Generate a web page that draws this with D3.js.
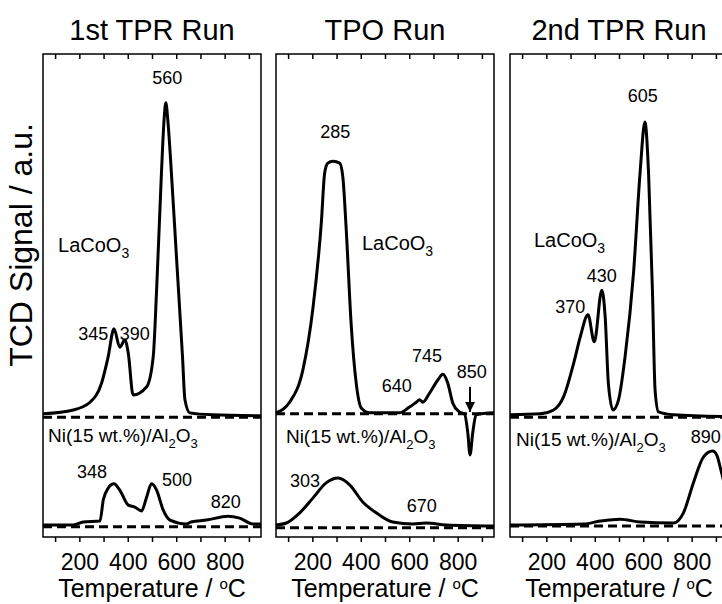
<!DOCTYPE html>
<meta charset="utf-8">
<script src="https://cdn.jsdelivr.net/npm/d3@7"></script>
<style>
body { margin: 0; background: #fff; }
svg text { font-family: "Liberation Sans", Arial, sans-serif; fill: #000; }
.frame { fill: none; stroke: #000; stroke-width: 1.5; }
.axis path, .axis line { stroke: #000; stroke-width: 1.5; }
.axis text { font-size: 23px; font-family: "Liberation Sans", Arial, sans-serif; }
.curve { fill: none; stroke: #000; stroke-width: 3; stroke-linejoin: round; }
.base { stroke: #000; stroke-width: 3; stroke-dasharray: 9,5; }
</style>
<body>
<script>

// temperature (°C), signal (a.u.)
var tpr1_lacoo3 = [[50,25.5],[175,26.3],[244,27.9],[292,31.9],[319,37.3],[343,43.1],[367,39.3],[388,40.8],[402,38.1],[422,29.4],[478,31.1],[505,37.3],[519,51.1],[539,75.4],[550,86.5],[557,89.9],[565,86.5],[576,78.7],[601,58.0],[626,37.3],[636,28.4],[656,25.7],[750,25.3],[950,25.1]]
var tpr1_ni = [[50,2.5],[175,2.5],[216,3.1],[285,3.3],[299,7.7],[319,10.1],[343,11.0],[367,9.7],[402,6.6],[429,6.2],[457,5.4],[478,8.3],[498,11.0],[519,9.7],[546,5.6],[574,3.5],[642,2.7],[661,3.1],[725,3.5],[814,4.3],[862,3.9],[917,2.7],[950,2.7]]

var tpo_lacoo3 = [[50,25.7],[106,27.9],[161,34.6],[203,47.6],[237,65.0],[251,75.4],[264,77.4],[285,77.8],[313,77.4],[326,74.5],[340,63.6],[360,44.3],[381,31.9],[402,26.7],[436,25.7],[560,25.7],[601,26.9],[629,27.9],[643,28.4],[656,27.9],[684,29.8],[718,32.5],[739,33.7],[759,31.9],[780,27.7],[807,25.9],[828,25.5],[842,21.5],[851,17.0],[862,21.5],[876,25.3],[950,25.7]]
var tpo_ni = [[50,2.5],[93,2.9],[148,5.0],[203,8.1],[257,11.2],[306,12.2],[354,10.8],[409,7.2],[464,5.0],[532,3.1],[615,2.7],[670,2.9],[752,2.5],[950,2.3]]

var tpr2_lacoo3 = [[50,25.3],[175,25.5],[230,26.3],[271,29.0],[313,36.0],[340,41.4],[372,46.0],[398,40.4],[429,51.1],[443,45.5],[456,31.9],[475,26.3],[498,28.4],[525,37.3],[560,54.7],[587,75.4],[607,85.9],[622,75.4],[638,51.1],[649,30.4],[663,25.9],[725,25.3],[950,24.9]]
var tpr2_ni = [[50,2.5],[354,2.7],[422,3.3],[505,3.7],[587,3.1],[725,2.9],[766,5.0],[807,11.2],[849,16.6],[887,17.8],[905,16.8],[920,14.0],[950,8.0]]

var titles = ["1st TPR Run", "TPO Run", "2nd TPR Run"]
var baselines = [[24.8, 2.1], [25.5, 1.9], [24.8, 2.3]]
var majorTicks = [200, 400, 600, 800]
var minorTicks = [100, 300, 500, 700, 900]

// peak labels: [temperature, signal, text]
var peaks = [
  [[563,93.8,"560"],[258,40.8,"345"],[429,40.8,"390"],[252,12.2,"348"],[603,10.6,"500"],[805,6.0,"820"]],
  [[295,82.6,"285"],[549,30.0,"640"],[673,36.2,"745"],[858,32.9,"850"],[170,10.4,"303"],[652,5.2,"670"]],
  [[598,90.1,"605"],[429,52.8,"430"],[299,46.4,"370"],[858,19.5,"890"]]
]
// sample labels: [temperature, signal]
var lacoLabels = [[112,59.0],[405,59.4],[149,60.0]]
var niLabels = [[71,19.7],[91,19.5],[75,18.8]]
var arrow850 = [851, 31.1, 25.9]

var series = [[tpr1_lacoo3, tpr1_ni], [tpo_lacoo3, tpo_ni], [tpr2_lacoo3, tpr2_ni]]

var width = 722, height = 604
var panelLeft = [43, 276, 510], panelW = 218, plotTop = 54, plotBottom = 537

var svg = d3.select("body").append("svg")
    .attr("width", width)
    .attr("height", height)

svg.append("defs").append("marker")
   .attr("id", "head")
   .attr("viewBox", "0 -5 10 10")
   .attr("refX", 10).attr("refY", 0)
   .attr("markerWidth", 10).attr("markerHeight", 10)
   .attr("markerUnits", "userSpaceOnUse")
   .attr("orient", "auto")
   .append("path").attr("d", "M0,-5L10,0L0,5Z").attr("fill", "#000")

var y = d3.scaleLinear().domain([0, 100]).range([plotBottom, plotTop])

for (var p = 0; p < 3; ++p) {
  var x = d3.scaleLinear().domain([50, 950]).range([panelLeft[p], panelLeft[p] + panelW])
  var g = svg.append("g")

  g.append("rect").attr("class", "frame")
   .attr("x", x(50)).attr("y", plotTop)
   .attr("width", x(950) - x(50)).attr("height", plotBottom - plotTop)

  g.append("g").attr("class", "axis")
   .attr("transform", "translate(0," + plotBottom + ")")
   .call(d3.axisBottom(x).tickValues(majorTicks).tickSize(5).tickPadding(12).tickSizeOuter(0))
   .call(a => a.select(".domain").remove())
  g.append("g").attr("class", "axis")
   .attr("transform", "translate(0," + plotBottom + ")")
   .call(d3.axisBottom(x).tickValues(minorTicks).tickSize(5).tickFormat("").tickSizeOuter(0))
   .call(a => a.select(".domain").remove())
  g.append("g").attr("class", "axis")
   .attr("transform", "translate(0," + plotTop + ")")
   .call(d3.axisBottom(x).tickValues(majorTicks.concat(minorTicks)).tickSize(5).tickFormat("").tickSizeOuter(0))
   .call(a => a.select(".domain").remove())

  baselines[p].forEach(function(b) {
    g.append("line").attr("class", "base")
     .attr("x1", x(50)).attr("x2", x(950))
     .attr("y1", y(b)).attr("y2", y(b))
  })

  var line = d3.line().x(d => x(d[0])).y(d => y(d[1])).curve(d3.curveMonotoneX)
  series[p].forEach(function(s) {
    g.append("path").attr("class", "curve").attr("d", line(s))
  })

  g.append("text")
   .attr("x", x(500)).attr("y", 40)
   .attr("text-anchor", "middle")
   .style("font-size", "29px")
   .text(titles[p])

  var xt = g.append("text")
   .attr("x", x(500)).attr("y", 597)
   .attr("text-anchor", "middle")
   .style("font-size", "25px")
  xt.append("tspan").text("Temperature / ")
  xt.append("tspan").attr("dy", -8).style("font-size", "15px").text("o")
  xt.append("tspan").attr("dy", 8).text("C")

  peaks[p].forEach(function(d) {
    g.append("text")
     .attr("x", x(d[0])).attr("y", y(d[1]))
     .attr("text-anchor", "middle")
     .style("font-size", "18px")
     .text(d[2])
  })

  var lt = g.append("text")
   .attr("x", x(lacoLabels[p][0])).attr("y", y(lacoLabels[p][1]))
   .style("font-size", "20px")
  lt.append("tspan").text("LaCoO")
  lt.append("tspan").attr("dy", 6).style("font-size", "14px").text("3")

  var nt = g.append("text")
   .attr("x", x(niLabels[p][0])).attr("y", y(niLabels[p][1]))
   .style("font-size", "19px")
  nt.append("tspan").text("Ni(15 wt.%)/Al")
  nt.append("tspan").attr("dy", 6).style("font-size", "13px").text("2")
  nt.append("tspan").attr("dy", -6).text("O")
  nt.append("tspan").attr("dy", 6).style("font-size", "13px").text("3")

  if (p == 1) {
    g.append("line")
     .attr("x1", x(arrow850[0])).attr("x2", x(arrow850[0]))
     .attr("y1", y(arrow850[1])).attr("y2", y(arrow850[2]))
     .attr("stroke", "#000").attr("stroke-width", 2)
     .attr("marker-end", "url(#head)")
  }
}

svg.append("text")
   .attr("transform", "translate(32," + 245 + ") rotate(-90)")
   .attr("text-anchor", "middle")
   .style("font-size", "32px")
   .text("TCD Signal / a.u.")

</script>
</body>
